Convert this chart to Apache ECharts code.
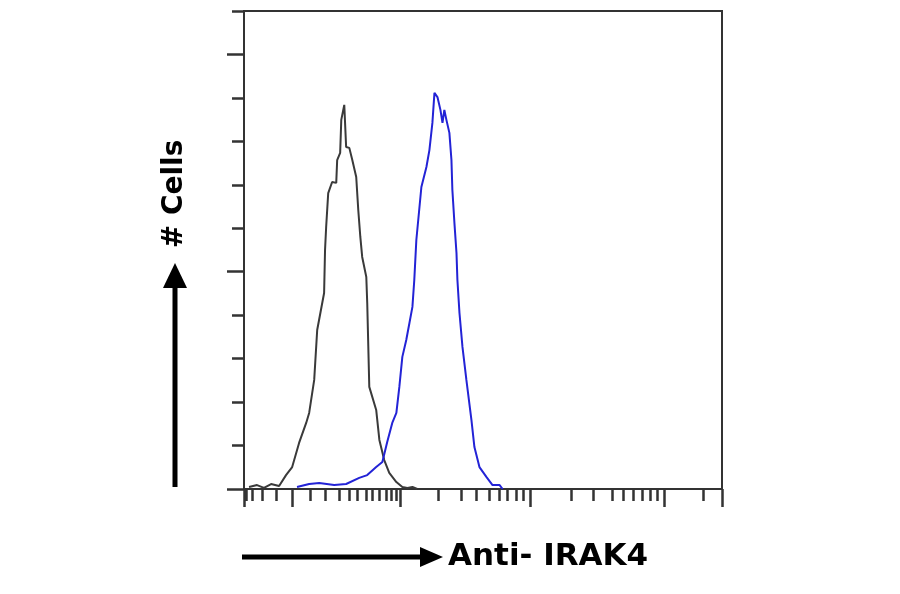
<!DOCTYPE html>
<html>
<head>
<meta charset="utf-8">
<script src="https://cdn.jsdelivr.net/npm/echarts@6/dist/echarts.min.js"></script>
<style>
  html, body { margin: 0; padding: 0; background: #fff; }
  #chart { width: 900px; height: 594px; }
</style>
</head>
<body>
<div id="chart"></div>
<script>
// x in display channels (0-256), y in cell counts
const controlData = [
  [2.7, 0.9], [7.0, 1.8], [10.7, 0.5], [14.5, 2.3], [18.8, 1.4], [22.5, 6.4],
  [25.8, 10.1], [29.5, 21.2], [33.3, 30.4], [34.9, 35.0], [37.6, 50.2], [39.2, 73.2],
  [42.9, 90.2], [43.4, 110.0], [44.0, 120.6], [45.1, 136.2], [47.2, 141.3], [49.4, 140.9],
  [49.9, 151.4], [51.5, 154.7], [52.1, 169.9], [53.7, 176.8], [54.7, 157.4], [56.4, 157.0],
  [58.0, 151.4], [60.1, 143.6], [61.2, 128.4], [62.3, 116.0], [63.3, 106.8], [65.5, 97.6],
  [66.0, 85.6], [67.1, 47.0], [70.8, 36.4], [72.5, 22.6], [75.1, 13.3], [77.8, 7.4],
  [81.6, 3.2], [84.8, 0.9], [87.5, 0.5], [90.2, 0.9], [92.8, 0]
]
const irak4Data = [
  [28.4, 0.9], [34.9, 2.3], [40.3, 2.8], [48.3, 1.8], [54.7, 2.3], [61.7, 5.1],
  [66.0, 6.4], [70.8, 10.1], [74.1, 12.4], [76.7, 21.6], [79.4, 30.4], [81.6, 35.0],
  [83.2, 47.0], [84.8, 60.8], [86.9, 68.6], [88.6, 76.4], [90.2, 83.8], [91.2, 96.2],
  [92.3, 114.6], [95.0, 139.0], [97.7, 148.2], [99.3, 156.0], [100.9, 168.5], [102.0, 182.3],
  [103.6, 180.4], [105.2, 174.5], [106.3, 168.5], [107.3, 174.5], [108.4, 169.9], [110.0, 163.9],
  [111.1, 151.4], [111.6, 137.6], [112.7, 122.4], [113.8, 108.6], [114.3, 96.2], [115.4, 81.0],
  [117.0, 65.4], [119.1, 50.2], [121.8, 31.8], [123.4, 19.3], [126.1, 10.1], [129.9, 5.5],
  [133.1, 1.8], [136.9, 1.8], [138.5, 0]
]
const xMinorTicks = [1.1, 4.3, 9.7, 17.2, 35.4, 43.5, 51, 56.4, 60.7, 65.5, 68.7, 72.5,
  76.2, 78.9, 81.6, 104.1, 116.5, 124.5, 131.5, 136.9, 141.2, 146, 149.8, 175.5, 186.8,
  197, 202.9, 208.3, 213.1, 217.4, 221.2, 245.8]
const xMajorTicks = [0, 25.8, 83.7, 153.5, 224.9, 256]
const yMajorTicks = [0, 100, 200]

const axisColor = '#333'
const labelFont = '"DejaVu Sans", sans-serif'
const chart = echarts.init(document.getElementById('chart'))

chart.setOption({
  animation: false,
  grid: {
    left: 244, top: 11, right: 178, bottom: 105,
    show: true, borderColor: axisColor, borderWidth: 2, backgroundColor: 'transparent'
  },
  xAxis: [
    {
      type: 'value', min: 0, max: 256,
      axisLine: { lineStyle: { color: axisColor, width: 2 } },
      axisTick: { customValues: xMinorTicks, length: 12, lineStyle: { color: axisColor, width: 2.5 } },
      axisLabel: { show: false },
      splitLine: { show: false }
    },
    {
      type: 'value', min: 0, max: 256, position: 'bottom',
      axisLine: { show: false },
      axisTick: { customValues: xMajorTicks, length: 18, lineStyle: { color: axisColor, width: 2.5 } },
      axisLabel: { show: false },
      splitLine: { show: false }
    }
  ],
  yAxis: [
    {
      type: 'value', min: 0, max: 220, interval: 20,
      axisLine: { show: true, lineStyle: { color: axisColor, width: 2 } },
      axisTick: { show: true, length: 12, lineStyle: { color: axisColor, width: 2.5 } },
      axisLabel: { show: false },
      splitLine: { show: false }
    },
    {
      type: 'value', min: 0, max: 220, position: 'left',
      axisLine: { show: false },
      axisTick: { show: true, customValues: yMajorTicks, length: 17, lineStyle: { color: axisColor, width: 2.5 } },
      axisLabel: { show: false },
      splitLine: { show: false }
    }
  ],
  series: [
    {
      name: 'Control',
      type: 'line',
      data: controlData,
      showSymbol: false,
      lineStyle: { color: '#3a3a3a', width: 2 }
    },
    {
      name: 'Anti- IRAK4',
      type: 'line',
      data: irak4Data,
      showSymbol: false,
      lineStyle: { color: '#2323d6', width: 2 }
    }
  ],
  graphic: [
    // y axis arrow
    { type: 'line', shape: { x1: 175, y1: 487, x2: 175, y2: 284 }, style: { stroke: '#000', lineWidth: 5 } },
    { type: 'polygon', shape: { points: [[175, 263], [163, 288], [187, 288]] }, style: { fill: '#000' } },
    {
      type: 'text', x: 175, y: 194, rotation: Math.PI / 2,
      style: {
        text: '# Cells', fill: '#000', font: 'bold 28px ' + labelFont,
        align: 'center', verticalAlign: 'middle'
      }
    },
    // x axis arrow
    { type: 'line', shape: { x1: 242, y1: 557, x2: 424, y2: 557 }, style: { stroke: '#000', lineWidth: 5 } },
    { type: 'polygon', shape: { points: [[443, 557], [420, 547], [420, 567]] }, style: { fill: '#000' } },
    {
      type: 'text', x: 448, y: 557,
      style: {
        text: 'Anti- IRAK4', fill: '#000', font: 'bold 31px ' + labelFont,
        align: 'left', verticalAlign: 'middle'
      }
    }
  ]
})
</script>
</body>
</html>
